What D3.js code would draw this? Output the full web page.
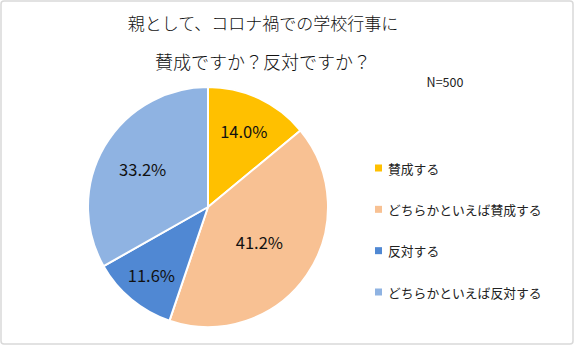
<!DOCTYPE html>
<html><head><meta charset="utf-8">
<script src="https://cdn.jsdelivr.net/npm/d3@7"></script>
<style>body{margin:0;background:#fff}svg{display:block}</style>
</head><body><svg id="c" width="574" height="345"></svg>
<script>
const titleLines = ["親として、コロナ禍での学校行事に", "賛成ですか？反対ですか？"];
const sampleNote = "N=500";
const categories = ["賛成する", "どちらかといえば賛成する", "反対する", "どちらかといえば反対する"];
const values = [14.0, 41.2, 11.6, 33.2];
const colors = ["#FFC000", "#F8C193", "#5088D3", "#8FB3E2"];
const labelRadiusFactor = [0.70, 0.52, 0.74, 0.63];

const svg = d3.select("#c");
const font = "'Noto Sans CJK JP','Noto Sans',sans-serif";
svg.append("rect").attr("x",1).attr("y",1).attr("width",572).attr("height",343)
  .attr("rx",3).attr("fill","#fff").attr("stroke","#D9D9D9").attr("stroke-width",1.5);

svg.selectAll("text.title").data(titleLines).enter().append("text")
  .attr("x",263).attr("y",(d,i)=>22+i*39).attr("text-anchor","middle")
  .attr("dominant-baseline","central").attr("font-family",font).attr("font-size",(d,i)=>i===0?17:18)
  .attr("font-weight",300).attr("fill","#111").text(d=>d);
svg.append("text").attr("x",445).attr("y",81).attr("text-anchor","middle")
  .attr("dominant-baseline","central").attr("font-family",font).attr("font-size",12.5)
  .attr("fill","#222").text(sampleNote);

const cx=208, cy=207, r=120;
const pie = d3.pie().sort(null).value(d=>d)(values);
const arc = d3.arc().innerRadius(0).outerRadius(r);
const g = svg.append("g").attr("transform",`translate(${cx},${cy})`);
g.selectAll("path").data(pie).enter().append("path")
  .attr("d",arc).attr("fill",(d,i)=>colors[i]).attr("stroke","#fff").attr("stroke-width",2);
g.selectAll("text").data(pie).enter().append("text")
  .attr("transform",(d,i)=>{const a=d3.arc().innerRadius(r*labelRadiusFactor[i]).outerRadius(r*labelRadiusFactor[i]);return `translate(${a.centroid(d)})`;})
  .attr("text-anchor","middle").attr("dominant-baseline","central")
  .attr("font-family",font).attr("font-size",16.5).attr("fill","#111")
  .text(d=>d.data.toFixed(1)+"%");

const y = d3.scalePoint().domain(categories).range([168,292]);
const lg = svg.append("g");
categories.forEach((c,i)=>{
  lg.append("rect").attr("x",375).attr("y",y(c)-3.5).attr("width",7).attr("height",7).attr("fill",colors[i]);
  lg.append("text").attr("x",388).attr("y",y(c)).attr("dominant-baseline","central")
    .attr("font-family",font).attr("font-size",12.8).attr("fill","#222").text(c);
});
</script></body></html>
